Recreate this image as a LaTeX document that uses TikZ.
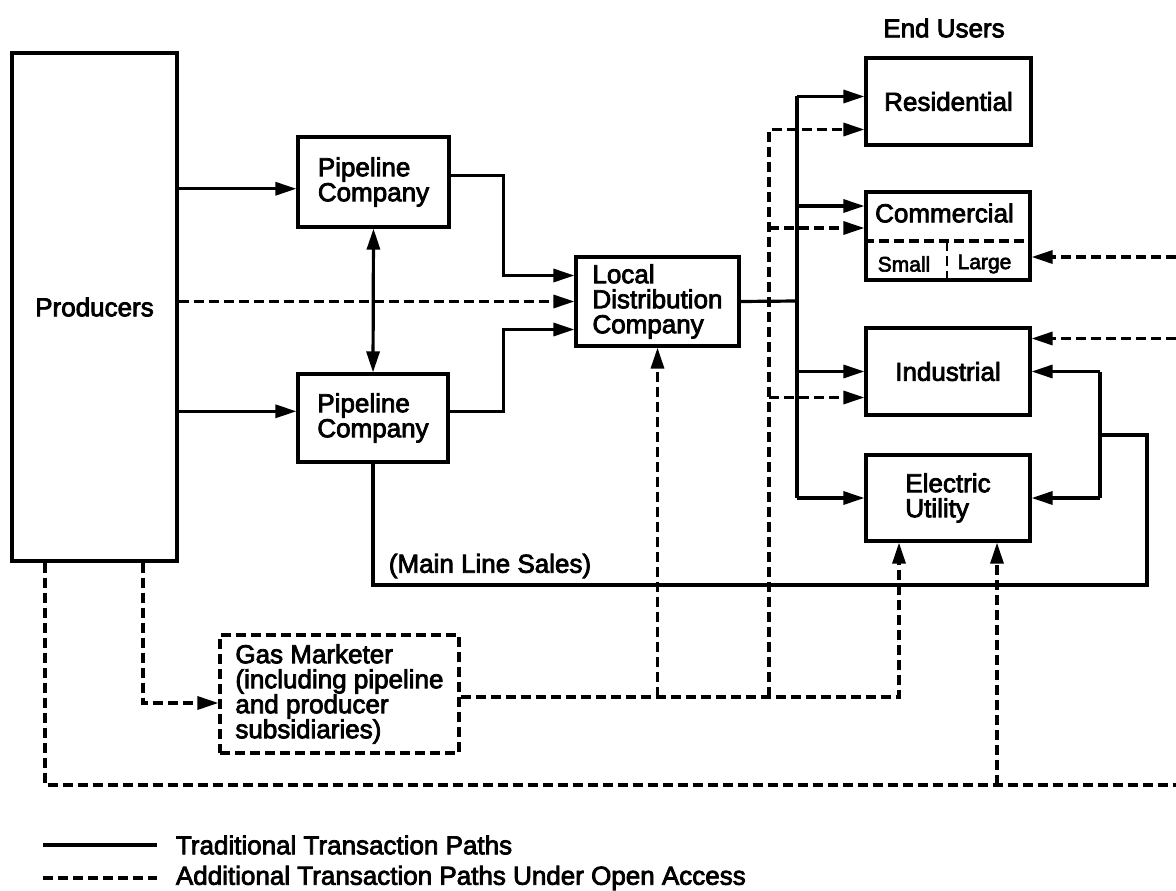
\documentclass[tikz,border=0pt]{standalone}
\usepackage{fontspec}
\setmainfont{Liberation Sans}[FakeBold=3]
\usetikzlibrary{arrows.meta}

\begin{document}
\begin{tikzpicture}[x=1pt,y=-1pt,line width=3.2pt,
    >={Triangle[length=21pt,width=13pt]},
    font=\fontsize{26}{25}\selectfont,
    dpath/.style={dash pattern=on 10pt off 5pt},
    box/.style={draw,align=left,inner sep=0pt}]
    \useasboundingbox (0,0) rectangle (1176,891);

    % Draw boxes
    \node[box,minimum width=165pt,minimum height=508pt] (prod) at (94.5,307) {Producers};
    \node[box,minimum width=151pt,minimum height=90pt] (pipeA) at (373.5,182) {Pipeline\\Company};
    \node[box,minimum width=150pt,minimum height=88pt] (pipeB) at (373,418) {Pipeline\\Company};
    \node[box,minimum width=163pt,minimum height=89pt] (ldc) at (657.5,301.5) {Local\\Distribution\\Company};
    \node[box,dpath,minimum width=239pt,minimum height=118pt] (gm) at (339.5,694)
        {Gas Marketer\\(including pipeline\\and producer\\subsidiaries)};

    % Draw end users
    \node (endusers) at (944,28) {End Users};
    \node[box,minimum width=165pt,minimum height=87pt] (res) at (948.5,101.5) {Residential};
    \node[box,minimum width=164pt,minimum height=88pt] (com) at (948,236) {};
    \node (comtext) at (944.5,213) {Commercial};
    \node[font=\fontsize{21}{21}\selectfont] (small) at (904,264) {Small};
    \node[font=\fontsize{21}{21}\selectfont] (large) at (984.5,264) {Large};
    \coordinate (comdiv) at (947,241);
    \draw[dpath] (com.west |- comdiv) -- (com.east |- comdiv);
    \draw[dpath,line width=2pt] (comdiv) -- (comdiv |- com.south);
    \node[box,minimum width=164pt,minimum height=87pt] (ind) at (948,371.5) {Industrial};
    \node[box,minimum width=164pt,minimum height=86pt] (elec) at (948,498) {Electric\\Utility};

    % Producers to pipelines
    \draw[->] (prod.east |- pipeA.185) -- (pipeA.185);
    \draw[->] (prod.east |- pipeB.175) -- (pipeB.175);
    \draw[<->] (pipeA.south) -- (pipeB.north);

    % Pipelines to LDC
    \draw[->] (pipeA.5) -| ([xshift=-71pt,yshift=26pt]ldc.west) -- ([yshift=26pt]ldc.west);
    \draw[->] (pipeB.5) -| ([xshift=-71pt,yshift=-28pt]ldc.west) -- ([yshift=-28pt]ldc.west);
    \draw[dpath,->] (prod.east |- ldc.west) -- (ldc.west);

    % LDC to end users
    \coordinate (bus) at (797,301);
    \coordinate (resT) at ([yshift=5pt]res.west);
    \coordinate (comT) at ([yshift=30pt]com.west);
    \draw (ldc.east) -- (bus);
    \draw (bus |- resT) -- (bus |- elec.west);
    \draw[->] (bus |- resT) -- (resT);
    \draw[->] (bus |- comT) -- (comT);
    \draw[->] (bus |- ind.west) -- (ind.west);
    \draw[->] (bus |- elec.west) -- (elec.west);

    % Main line sales
    \coordinate (mls) at (1147,585);
    \coordinate (ret) at (1100,435);
    \draw (pipeB.south) |- (mls) |- (ret);
    \draw (ret |- ind.east) -- (ret |- elec.east);
    \draw[->] (ret |- ind.east) -- (ind.east);
    \draw[->] (ret |- elec.east) -- (elec.east);
    \node (mlslabel) at (490,566) {(Main Line Sales)};

    % Open access paths
    \coordinate (gmin) at ([yshift=-9pt]gm.west);
    \coordinate (gmout) at ([yshift=-3pt]gm.east);
    \coordinate (edgeB) at (1176,785);
    \coordinate (rim) at (1176,300);
    \coordinate (eL) at ([xshift=-49pt]elec.south);
    \coordinate (eR) at ([xshift=49pt]elec.south);
    \coordinate (dbus) at (769,400);
    \coordinate (resD) at ([yshift=-28pt]res.west);
    \coordinate (comD) at ([yshift=8pt]com.west);
    \coordinate (indD) at ([yshift=-26pt]ind.west);
    \coordinate (comR) at ([yshift=-21pt]com.east);
    \coordinate (indR) at ([yshift=33pt]ind.east);
    \draw[dpath,->] ([xshift=48.5pt]prod.south) |- (gmin);
    \draw[dpath] ([xshift=-49.5pt]prod.south) |- (edgeB);
    \draw[dpath,->] (eR |- edgeB) -- (eR);
    \draw[dpath,->] (gmout) -| (eL);
    \draw[dpath,->] (gmout -| ldc.south) -- (ldc.south);
    \draw[dpath,->] (gmout -| dbus) |- (resD);
    \draw[dpath,->] (dbus |- comD) -- (comD);
    \draw[dpath,->] (dbus |- indD) -- (indD);
    \draw[dpath,->] (rim |- comR) -- (comR);
    \draw[dpath,->] (rim |- indR) -- (indR);

    % Legend
    \node[anchor=west] (legT) at (171,845) {Traditional Transaction Paths};
    \node[anchor=west] (legA) at (171,878) {Additional Transaction Paths Under Open Access};
    \draw ([xshift=-128pt]legT.west) -- ([xshift=-14pt]legT.west);
    \draw[dpath] ([xshift=-128pt]legA.west) -- ([xshift=-14pt]legA.west);
\end{tikzpicture}
\end{document}
